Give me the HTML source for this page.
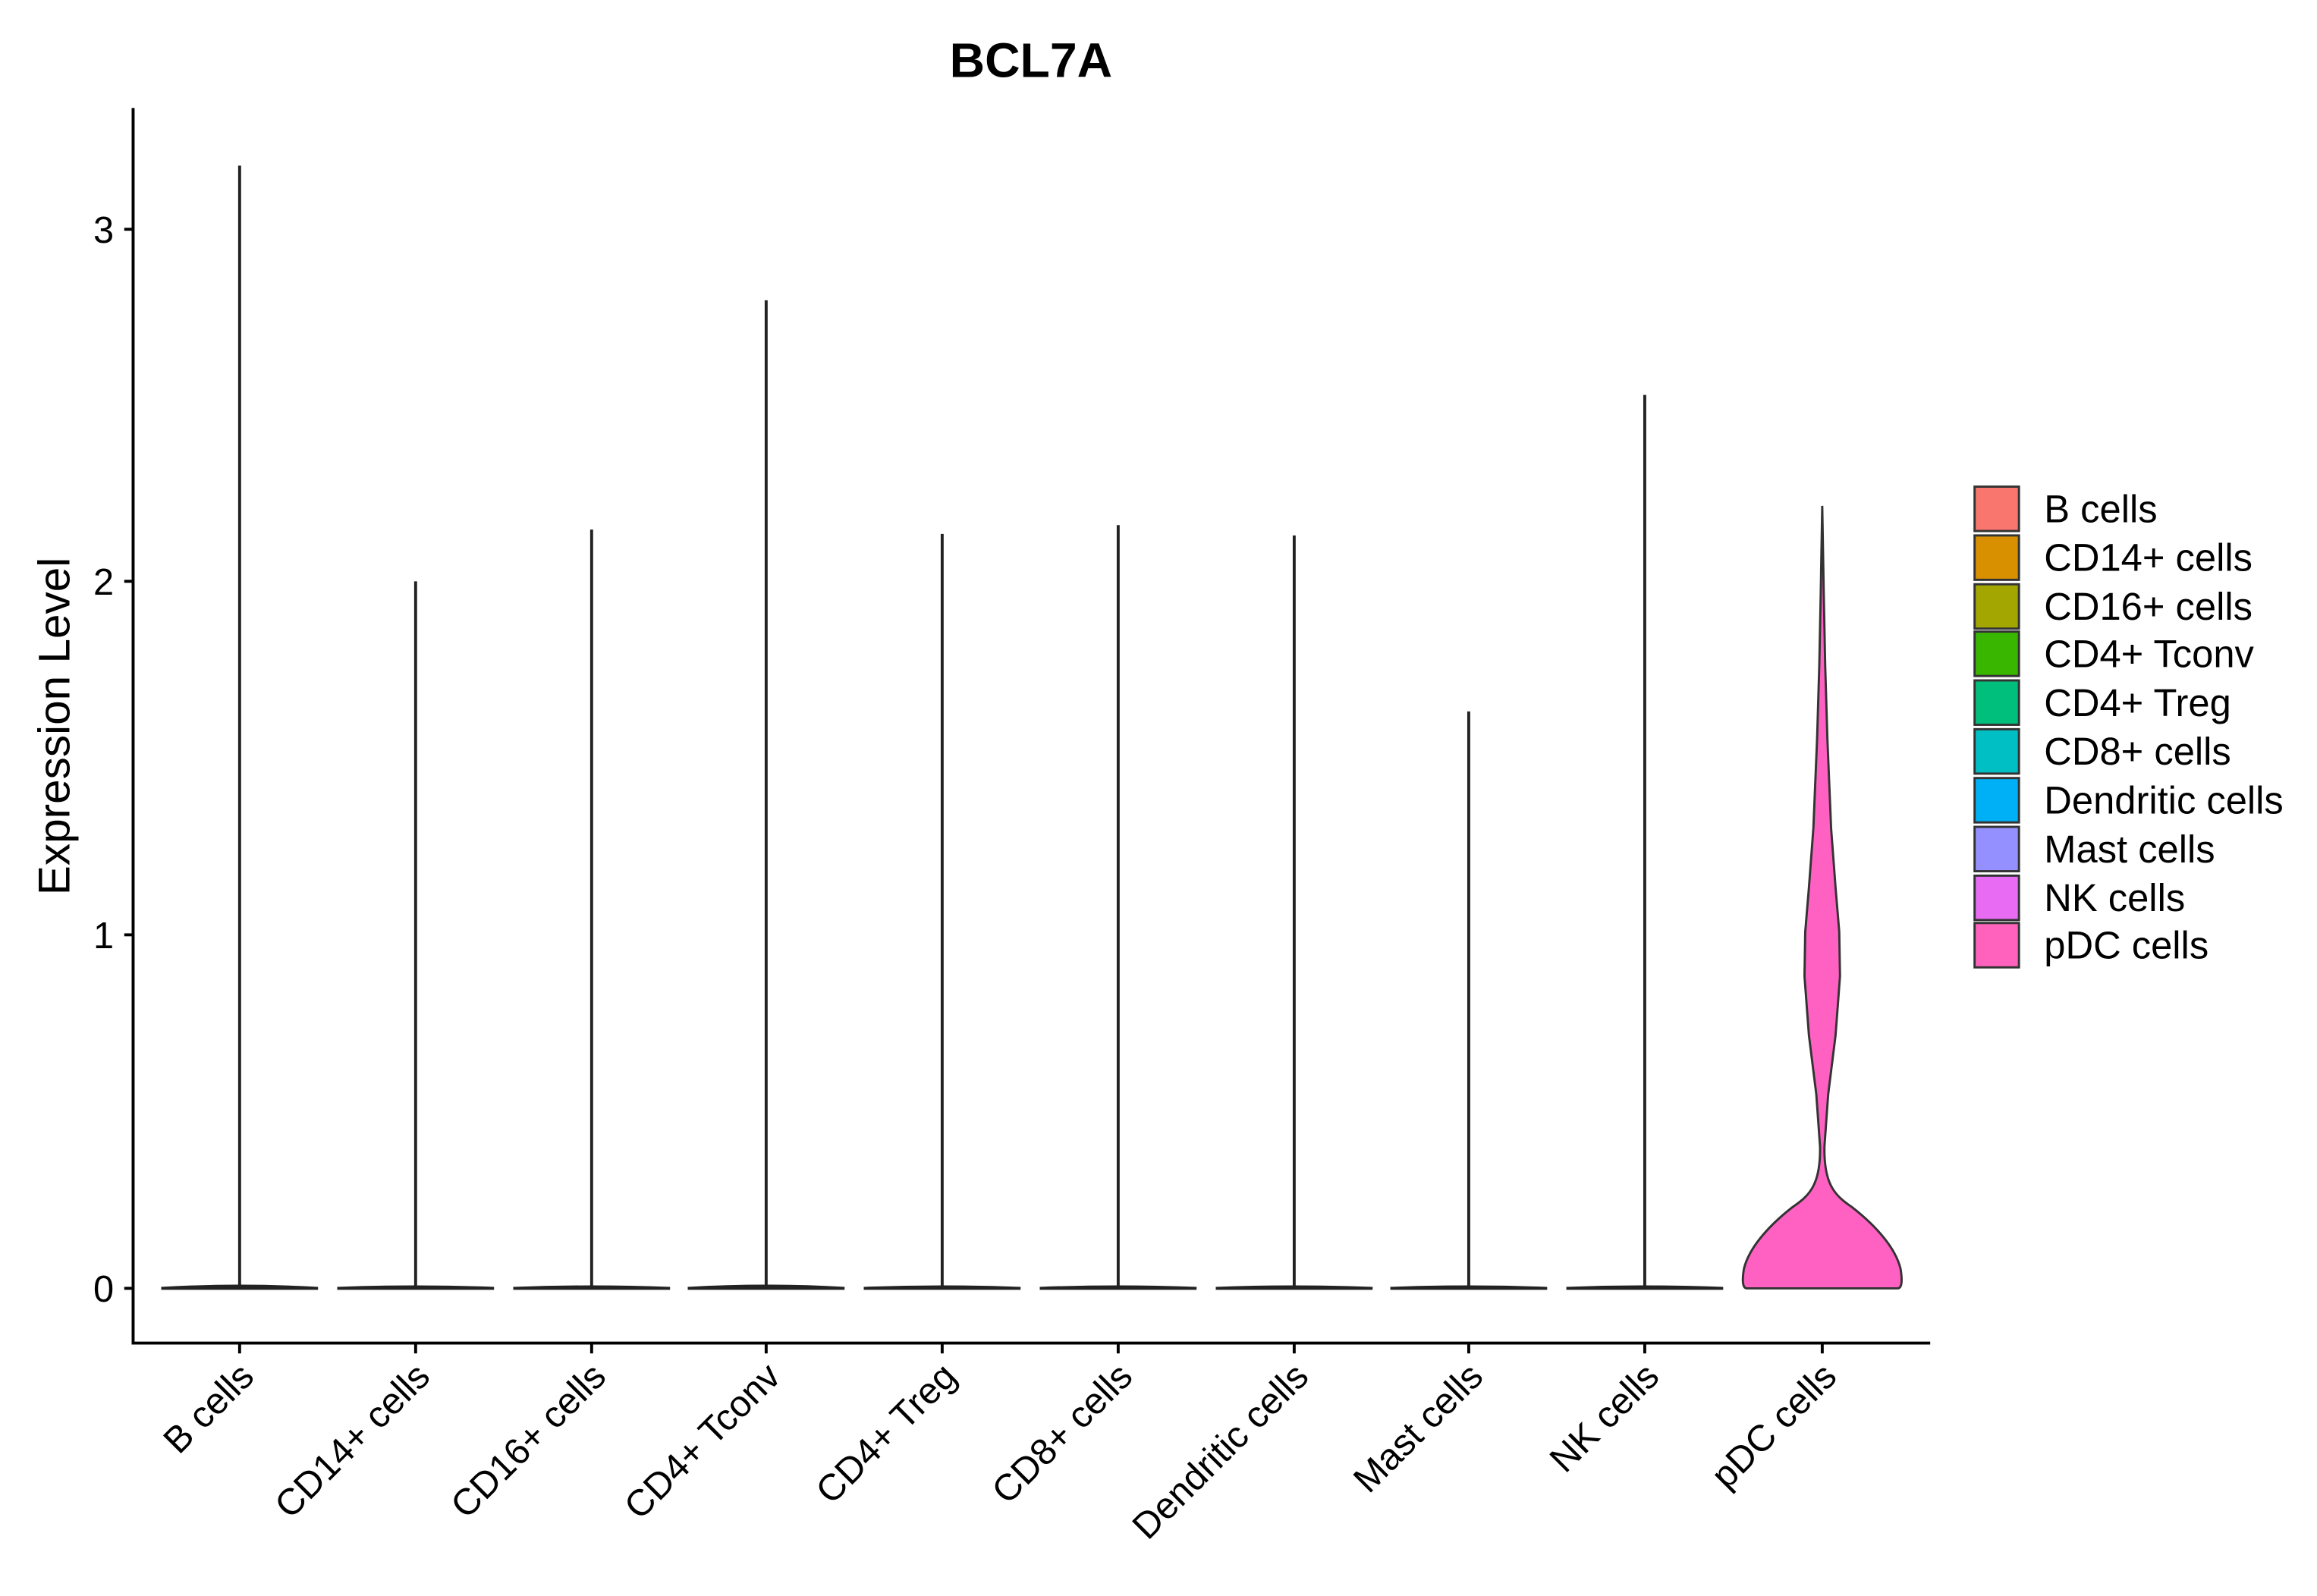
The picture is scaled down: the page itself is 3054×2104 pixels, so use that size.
<!DOCTYPE html>
<html><head><meta charset="utf-8"><style>html,body{margin:0;padding:0;background:#fff}svg{display:block}</style></head><body>
<svg width="3054" height="2104" viewBox="0 0 1566.5 1079" preserveAspectRatio="none" xmlns="http://www.w3.org/2000/svg" font-family="Liberation Sans, sans-serif">
<rect width="1600" height="1100" fill="#fff"/>
<text x="697" y="52" font-size="33" font-weight="bold" text-anchor="middle">BCL7A</text>
<g stroke="#000" stroke-width="2" fill="none">
<line x1="90" y1="73" x2="90" y2="909"/>
<line x1="89" y1="908" x2="1305" y2="908"/>
<line x1="84" y1="871" x2="90" y2="871"/><line x1="84" y1="632" x2="90" y2="632"/>
<line x1="84" y1="393" x2="90" y2="393"/><line x1="84" y1="155" x2="90" y2="155"/>
</g>
<g font-size="25" text-anchor="end" fill="#000">
<text x="77" y="880">0</text><text x="77" y="641">1</text><text x="77" y="402">2</text><text x="77" y="164">3</text>
</g>
<text transform="translate(47,491) rotate(-90)" font-size="30" text-anchor="middle">Expression Level</text>
<g stroke="#222" stroke-width="2" fill="none">
<line x1="162" y1="871" x2="162" y2="112"/><line x1="281" y1="871" x2="281" y2="393"/>
<line x1="400" y1="871" x2="400" y2="358"/><line x1="518" y1="871" x2="518" y2="203"/>
<line x1="637" y1="871" x2="637" y2="361"/><line x1="756" y1="871" x2="756" y2="355"/>
<line x1="875" y1="871" x2="875" y2="362"/><line x1="993" y1="871" x2="993" y2="481"/>
<line x1="1112" y1="871" x2="1112" y2="267"/>
<path d="M109 871 Q162 868 215 871 Z"/><path d="M228 871 Q281 869 334 871 Z"/>
<path d="M347 871 Q400 869 453 871 Z"/><path d="M465 871 Q518 868 571 871 Z"/>
<path d="M584 871 Q637 869 690 871 Z"/><path d="M703 871 Q756 869 809 871 Z"/>
<path d="M822 871 Q875 869 928 871 Z"/><path d="M940 871 Q993 869 1046 871 Z"/>
<path d="M1059 871 Q1112 869 1165 871 Z"/>
</g>
<path fill="#FF61C3" stroke="#333" stroke-width="1.5" d="M1232 342 L1233 400 L1234 450 L1235.5 500 L1238 560 L1241 600 L1243.5 630 L1244 660 L1241 700 L1236 740 L1233.5 775 C1233 800 1240 808 1252 816 C1270 830 1282 845 1285 858 Q1287 871 1283 871 L1181 871 Q1177 871 1179 858 C1182 845 1194 830 1212 816 C1224 808 1231 800 1230.5 775 L1228 740 L1223 700 L1220 660 L1220.5 630 L1223 600 L1226 560 L1228.5 500 L1230 450 L1231 400 Z"/>
<g stroke="#000" stroke-width="2">
<line x1="162" y1="908" x2="162" y2="915"/><line x1="281" y1="908" x2="281" y2="915"/><line x1="400" y1="908" x2="400" y2="915"/><line x1="518" y1="908" x2="518" y2="915"/><line x1="637" y1="908" x2="637" y2="915"/><line x1="756" y1="908" x2="756" y2="915"/><line x1="875" y1="908" x2="875" y2="915"/><line x1="993" y1="908" x2="993" y2="915"/><line x1="1112" y1="908" x2="1112" y2="915"/><line x1="1232" y1="908" x2="1232" y2="915"/>
</g>
<g font-size="25" text-anchor="end">
<text transform="translate(173,932) rotate(-45)">B cells</text>
<text transform="translate(292,932) rotate(-45)">CD14+ cells</text>
<text transform="translate(411,932) rotate(-45)">CD16+ cells</text>
<text transform="translate(529,932) rotate(-45)">CD4+ Tconv</text>
<text transform="translate(648,932) rotate(-45)">CD4+ Treg</text>
<text transform="translate(767,932) rotate(-45)">CD8+ cells</text>
<text transform="translate(886,932) rotate(-45)">Dendritic cells</text>
<text transform="translate(1004,932) rotate(-45)">Mast cells</text>
<text transform="translate(1123,932) rotate(-45)">NK cells</text>
<text transform="translate(1243,932) rotate(-45)">pDC cells</text>
</g>
<g stroke="#333" stroke-width="1.5">
<rect x="1335" y="329" width="30" height="30" fill="#F8766D"/>
<rect x="1335" y="362" width="30" height="30" fill="#D89000"/>
<rect x="1335" y="395" width="30" height="30" fill="#A3A500"/>
<rect x="1335" y="427" width="30" height="30" fill="#39B600"/>
<rect x="1335" y="460" width="30" height="30" fill="#00BF7D"/>
<rect x="1335" y="493" width="30" height="30" fill="#00BFC4"/>
<rect x="1335" y="526" width="30" height="30" fill="#00B0F6"/>
<rect x="1335" y="559" width="30" height="30" fill="#9590FF"/>
<rect x="1335" y="592" width="30" height="30" fill="#E76BF3"/>
<rect x="1335" y="624" width="30" height="30" fill="#FF62BC"/>
</g>
<g font-size="26">
<text x="1382" y="353">B cells</text><text x="1382" y="386">CD14+ cells</text>
<text x="1382" y="419">CD16+ cells</text><text x="1382" y="451">CD4+ Tconv</text>
<text x="1382" y="484">CD4+ Treg</text><text x="1382" y="517">CD8+ cells</text>
<text x="1382" y="550">Dendritic cells</text><text x="1382" y="583">Mast cells</text>
<text x="1382" y="616">NK cells</text><text x="1382" y="648">pDC cells</text>
</g>
</svg>
</body></html>
